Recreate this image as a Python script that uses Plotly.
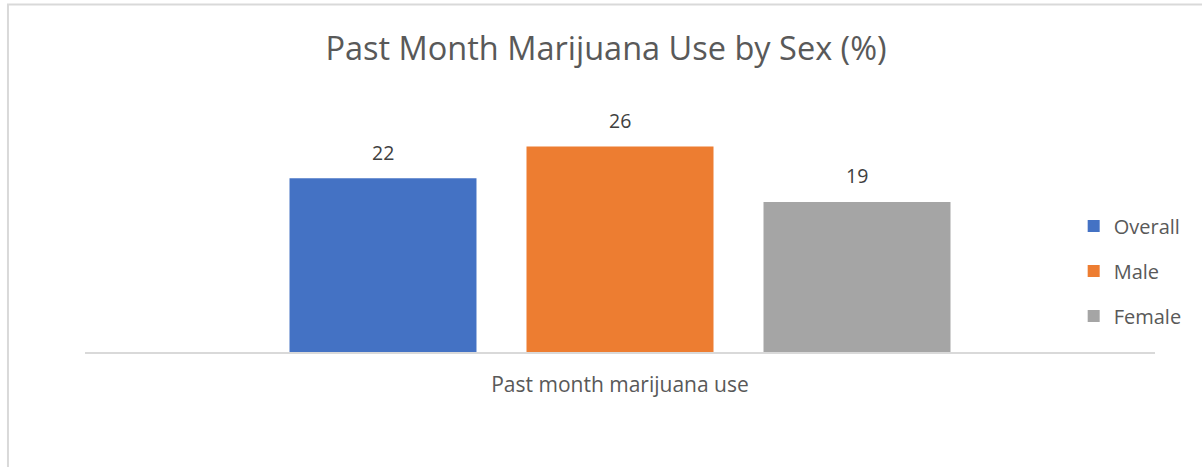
import plotly.graph_objects as go

# Chart data
categories = ["Past month marijuana use"]
series_names = ["Overall", "Male", "Female"]
series_values = [22, 26, 19]
series_colors = ["#4472C4", "#ED7D31", "#A5A5A5"]

title_text = "Past Month Marijuana Use by Sex (%)"

W, H = 1202, 467
margin = dict(l=85, r=47, t=115, b=115)
bargap = 0.3355
bargroupgap = 0.211
plot_w = W - margin["l"] - margin["r"]
slot_w = plot_w * (1 - bargap) / len(series_names)

fig = go.Figure()
for name, val, color in zip(series_names, series_values, series_colors):
    fig.add_trace(go.Bar(
        x=categories,
        y=[val],
        name=name,
        legendgroup=name,
        marker=dict(color=color, line=dict(width=0)),
        hoverinfo="skip",
    ))

# Value labels above each bar
for i, val in enumerate(series_values):
    fig.add_annotation(
        x=categories[0], y=val, xref="x", yref="y",
        text=str(val), showarrow=False,
        xshift=(i - (len(series_values) - 1) / 2) * slot_w,
        yanchor="middle", yshift=26,
        font=dict(family="Open Sans", size=19.5, color="#404040"),
    )

# Light chart frame
fig.add_shape(
    type="rect", xref="paper", yref="paper",
    x0=-0.072, x1=1.2, y0=-1.0, y1=1.466,
    line=dict(color="#D9D9D9", width=2),
    fillcolor="rgba(0,0,0,0)", layer="below",
)

fig.update_layout(
    width=W, height=H,
    margin=margin,
    paper_bgcolor="white",
    plot_bgcolor="white",
    barmode="group",
    bargap=bargap,
    bargroupgap=bargroupgap,
    title=dict(
        text=title_text,
        x=606 / W, xref="container", xanchor="center",
        y=1 - 49 / H, yref="container", yanchor="middle",
        font=dict(family="Open Sans", size=32.5, color="#595959"),
    ),
    legend=dict(
        x=0.924, xanchor="left",
        y=0.342, yanchor="middle",
        traceorder="grouped",
        tracegroupgap=16,
        font=dict(family="Open Sans", size=20, color="#595959"),
        bgcolor="rgba(0,0,0,0)",
    ),
    xaxis=dict(
        showline=True, linecolor="#D9D9D9", linewidth=2,
        ticks="", showgrid=False, zeroline=False,
        tickfont=dict(family="Open Sans", size=21, color="#595959"),
        ticklabelstandoff=13,
        fixedrange=True,
    ),
    yaxis=dict(
        range=[0, 30], visible=False, showgrid=False, zeroline=False,
        fixedrange=True,
    ),
)

fig.write_html("out.html", config={"displayModeBar": False})
